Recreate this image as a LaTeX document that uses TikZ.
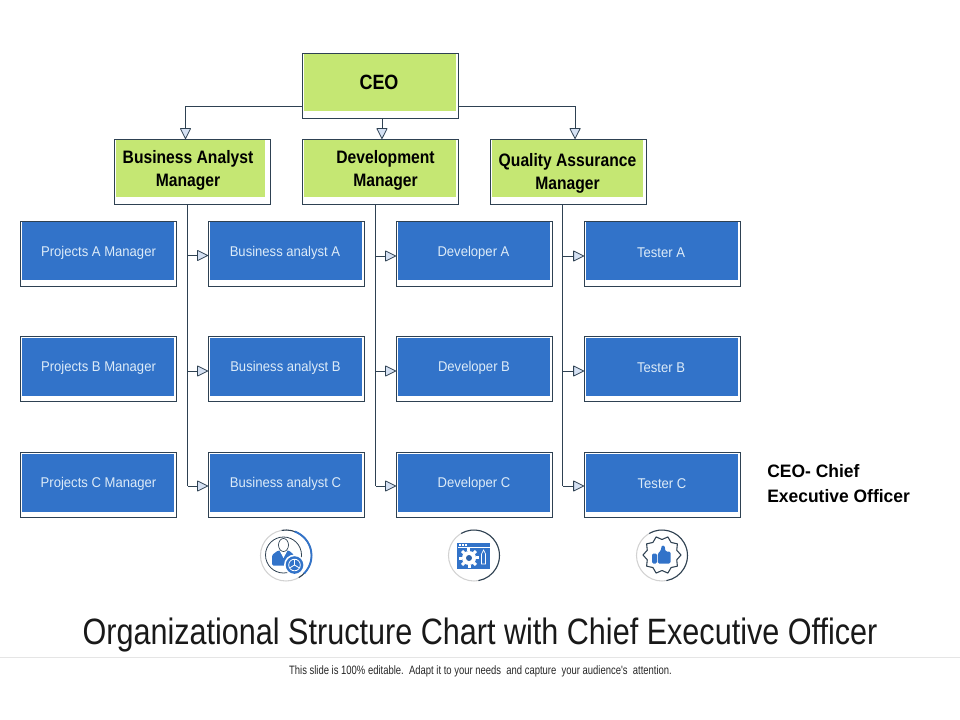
\documentclass[tikz,border=0pt]{standalone}
\usepackage{fontspec}
\setmainfont{Liberation Sans}
\newfontfamily\boldnarrow[FakeStretch=0.87]{Liberation Sans Bold}
\newfontfamily\notefont[FakeStretch=0.97]{Liberation Sans Bold}
\newfontfamily\bluefont[FakeStretch=0.925]{Liberation Sans}
\newfontfamily\titlefont[FakeStretch=0.834]{Liberation Sans}
\newfontfamily\footfont[FakeStretch=0.78]{Liberation Sans}
\usetikzlibrary{arrows.meta,calc}
\definecolor{lime}{HTML}{C5E773}
\definecolor{boxblue}{HTML}{3273C9}
\definecolor{edge}{HTML}{2E4152}
\definecolor{tipfill}{HTML}{D5E1F3}
\definecolor{paletext}{HTML}{DCEBF8}
\def\pxu{0.75pt}
\tikzset{
  x=0.75pt,y=-0.75pt,
  conn/.style={draw=edge,line width=0.7pt},
  tri/.style={conn,-{Triangle[length=8.5pt,width=8.5pt,fill=tipfill,line width=0.6pt,round]}},
  outerbox/.style={draw=edge,line width=0.7pt,minimum width=156*\pxu,minimum height=65*\pxu,inner sep=0pt},
  greenbox/.style={outerbox,path picture={\fill[lime] ([shift={(1,1)}]path picture bounding box.north west) rectangle ([shift={(-#1,-7)}]path picture bounding box.south east);}},
  bluebox/.style={outerbox,path picture={\fill[boxblue] ([shift={(1.5,1)}]path picture bounding box.north west) rectangle ([shift={(-3,-6)}]path picture bounding box.south east);}},
  greentext/.style={align=center,text=black,font=\boldnarrow\fontsize{13.5pt}{17.2pt}\selectfont,inner sep=0pt},
  bluetext/.style={text=paletext,font=\bluefont\fontsize{10.6pt}{12pt}\selectfont,inner sep=0pt},
  ring/.style={line width=0.8pt},
}
\begin{document}
\begin{tikzpicture}
\useasboundingbox (0,0) rectangle (960,720);
% green boxes
\node[greenbox=3] (ceo) at (380.5,85.5) {};
\node[greenbox=6] (bam) at (192.5,172) {};
\node[greenbox=3] (dev) at (380.5,172) {};
\node[greenbox=4] (qam) at (568.5,172) {};
\node[greentext] (ceot) at (379,82.5) {\fontsize{15.5pt}{17pt}\selectfont CEO};
\node[greentext] (bamt) at (188,170.5) {Business Analyst\\Manager};
\node[greentext] (devt) at (385.5,170.5) {Development\\Manager};
\node[greentext] (qamt) at (567.5,173.5) {Quality Assurance\\Manager};
% blue boxes
\node[bluebox] (pa1) at (98.5,253.5) {};
\node[bluebox] (pa2) at (98.5,369) {};
\node[bluebox] (pa3) at (98.5,485) {};
\node[bluebox] (ba1) at (286.5,253.5) {};
\node[bluebox] (ba2) at (286.5,369) {};
\node[bluebox] (ba3) at (286.5,485) {};
\node[bluebox] (de1) at (474.5,253.5) {};
\node[bluebox] (de2) at (474.5,369) {};
\node[bluebox] (de3) at (474.5,485) {};
\node[bluebox] (te1) at (662.5,253.5) {};
\node[bluebox] (te2) at (662.5,369) {};
\node[bluebox] (te3) at (662.5,485) {};
\node[bluetext] (pa1t) at (98.5,253) {Projects A Manager};
\node[bluetext] (pa2t) at (98.5,368) {Projects B Manager};
\node[bluetext] (pa3t) at (98.5,484) {Projects C Manager};
\node[bluetext] (ba1t) at (285,253) {Business analyst A};
\node[bluetext] (ba2t) at (285.5,368) {Business analyst B};
\node[bluetext] (ba3t) at (285.5,484) {Business analyst C};
\node[bluetext] (de1t) at (473.5,253) {Developer A};
\node[bluetext] (de2t) at (474,368) {Developer B};
\node[bluetext] (de3t) at (474,484) {Developer C};
\node[bluetext] (te1t) at (661,252.5) {Tester A};
\node[bluetext] (te2t) at (661,367.5) {Tester B};
\node[bluetext] (te3t) at (662,483.5) {Tester C};
% top connectors
\draw[tri] ([shift={(0,20.5)}]ceo.west) -| ([xshift=-5.25pt]bam.north);
\draw[tri] ([xshift=1.1pt]ceo.south) -- ([xshift=1.1pt]dev.north);
\draw[tri] ([shift={(0,20.5)}]ceo.east) -| ([xshift=4.9pt]qam.north);
% buses
\coordinate (busa) at (187.5,205);
\coordinate (busb) at (375.5,205);
\coordinate (busc) at (562.5,205);
\draw[conn] (busa) -- (busa |- 0,486);
\draw[tri] (busa |- 0,255.5) -- ([shift={(0,2)}]ba1.west);
\draw[tri] (busa |- 0,371) -- ([shift={(0,2)}]ba2.west);
\draw[tri] (busa |- 0,486) -- ([shift={(0,1)}]ba3.west);
\draw[conn] (busb) -- (busb |- 0,486);
\draw[tri] (busb |- 0,256) -- ([shift={(0,2.5)}]de1.west);
\draw[tri] (busb |- 0,371) -- ([shift={(0,2)}]de2.west);
\draw[tri] (busb |- 0,486) -- ([shift={(0,1)}]de3.west);
\draw[conn] (busc) -- (busc |- 0,486);
\draw[tri] (busc |- 0,256) -- ([shift={(0,2.5)}]te1.west);
\draw[tri] (busc |- 0,371) -- ([shift={(0,2)}]te2.west);
\draw[tri] (busc |- 0,486) -- ([shift={(0,1)}]te3.west);
% side note
\node[anchor=west,align=left,inner sep=0pt,font=\notefont\fontsize{13.5pt}{18.7pt}\selectfont] (note) at (767,484) {CEO- Chief\\Executive Officer};
% icon 1
\draw[ring,gray!35] (286,555.5) circle (25.5);
\draw[ring,edge] (286,555.5) ++(-100:25.5) arc (-100:60:25.5);
\draw[line width=1.4pt,boxblue] (286,555.5) ++(-70:25.5) arc (-70:45:25.5);
\draw[edge,line width=0.6pt] (283.5,555) circle (18);
\fill[boxblue,rounded corners=1pt] (272,565.5) -- (272,555) -- (278,550.5) -- (289,550.5) -- (294,555) -- (294,565.5) -- cycle;
\fill[white] (279.5,550.5) -- (283.5,558) -- (287.5,550.5) -- cycle;
\draw[edge,line width=0.5pt,fill=white] (283.5,545) ellipse (5 and 6.5);
\fill[white] (294.5,565) circle (10.5);
\fill[boxblue] (294.5,565) circle (8.8);
\draw[white,line width=0.6pt] (294.5,565) circle (5.8);
\draw[white,line width=0.6pt] (294.5,565) -- (294.5,559.2) (294.5,565) -- (289.5,568) (294.5,565) -- (299.5,568);
% icon 2
\draw[ring,gray!35] (474,555.5) circle (25.5);
\draw[ring,edge] (474,555.5) ++(-120:25.5) arc (-120:80:25.5);
\fill[boxblue] (457,543) rectangle (490,569);
\fill[white] (457.5,546.5) rectangle (489.5,547.5);
\foreach \i in {459,462,465}{\fill[white] (\i,544.2) rectangle +(1.5,1.4);}
\foreach \a in {0,45,...,315}{\fill[white] (469,558) ++(\a-13:7) -- ++(\a:3) -- ++(\a+90:3) -- ++(\a+180:3) -- cycle;}
\fill[white] (469,558) circle (7);
\fill[boxblue!85!black] (469,558) circle (3);
\draw[white,line width=0.5pt] (483.5,550) -- (485.5,554) -- (485.5,564) -- (481.5,564) -- (481.5,554) -- cycle;
% icon 3
\draw[ring,gray!35] (662,555.5) circle (25.5);
\draw[ring,edge] (662,555.5) ++(-120:25.5) arc (-120:80:25.5);
\draw[edge,line width=0.8pt,line join=round]
  ($(662,555)+(0:19)$) \foreach \a in {0,36,...,324}{ -- ($(662,555)+(\a:19)$) -- ($(662,555)+(\a+18:15.5)$)} -- cycle;
\fill[boxblue,rounded corners=1pt] (652,553.5) rectangle (657,563.5);
\fill[boxblue,rounded corners=1pt] (657.8,553.5) -- (661,550.5) -- (661.5,545.5) -- (664.5,545.5) -- (665.5,551.5) -- (670.5,551.5) -- (670.5,563.5) -- (657.8,563.5) -- cycle;
% title and footer
\node[inner sep=0pt,font=\titlefont\fontsize{27.5pt}{30pt}\selectfont,text=black!90] (title) at (480,635) {Organizational Structure Chart with Chief Executive Officer};
\draw[black!10,line width=0.8pt] (0,657.5) -- (960,657.5);
\node[inner sep=0pt,font=\footfont\fontsize{9.1pt}{10pt}\selectfont,text=black!85] (foot) at (480.5,671) {This slide is 100\% editable.\ \ Adapt it to your needs\ \ and capture\ \ your audience's\ \ attention.};
\end{tikzpicture}
\end{document}
